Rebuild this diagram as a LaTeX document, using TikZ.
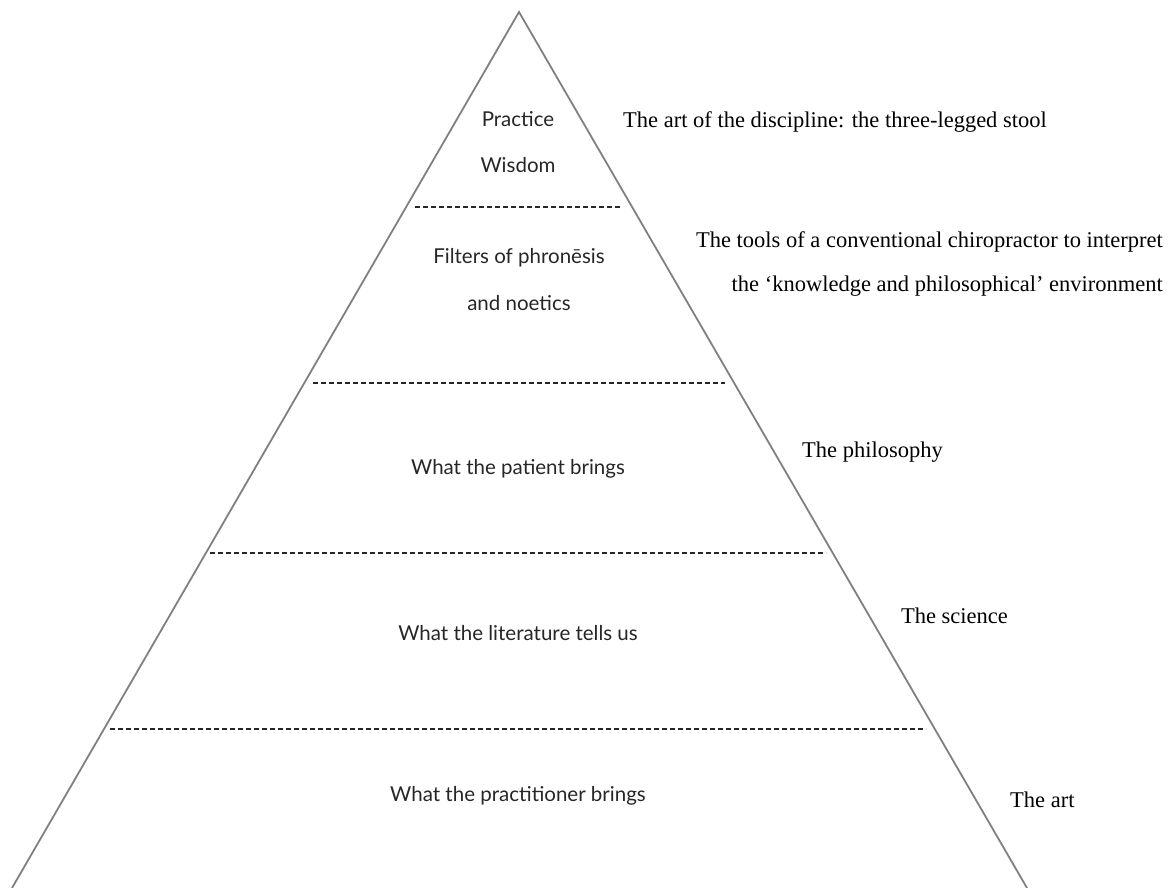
\documentclass[tikz,border=0pt]{standalone}
\usepackage{fontspec}
\setmainfont{Liberation Serif}
\newfontfamily\labsans{Lato}
\begin{document}
\begin{tikzpicture}[x=1pt,y=-1pt,
  side/.style={draw=black!50, line width=1.8pt},
  divider/.style={draw=black!85, line width=1.1pt, dash pattern=on 5pt off 3pt},
  inlabel/.style={font=\labsans\fontsize{20.5}{24}\selectfont, text=black!85, inner sep=0pt, anchor=base},
  outlabel/.style={font=\fontsize{22.5}{27}\selectfont, inner sep=0pt}]
\useasboundingbox (0,0) rectangle (1169,888);
\coordinate (apex) at (519,12);
\coordinate (bl) at (12,888);
\coordinate (br) at (1027,888);
\draw[side] (bl) -- (apex) -- (br);
% dividers
\coordinate (d1l) at (415,207); \coordinate (d1r) at (622,207);
\coordinate (d2l) at (313,383); \coordinate (d2r) at (725,383);
\coordinate (d3l) at (210,553); \coordinate (d3r) at (826,553);
\coordinate (d4l) at (110,729); \coordinate (d4r) at (926,729);
\draw[divider] (d1l) -- (d1r);
\draw[divider] (d2l) -- (d2r);
\draw[divider] (d3l) -- (d3r);
\draw[divider] (d4l) -- (d4r);
% inside labels
\node[inlabel] (pr) at (518,127) {Practice};
\node[inlabel] (wi) at (518,172) {Wisdom};
\node[inlabel] (fi) at (519,263) {Filters of phronēsis};
\node[inlabel] (no) at (519,310) {and noetics};
\node[inlabel] (pa) at (518,474) {What the patient brings};
\node[inlabel] (li) at (518,640) {What the literature tells us};
\node[inlabel] (pt) at (518,801) {What the practitioner brings};
% outside labels
\node[outlabel, anchor=base west] (o1) at (623,128) {The art of the discipline: the three-legged stool};
\node[outlabel, anchor=base east] (o2) at (1163,247) {The tools of a conventional chiropractor to interpret};
\node[outlabel, anchor=base east] (o3) at (1163,291) {the ‘knowledge and philosophical’ environment};
\node[outlabel, anchor=base west] (o4) at (802,457) {The philosophy};
\node[outlabel, anchor=base east] (o5) at (1008,623) {The science};
\node[outlabel, anchor=base west] (o6) at (1010,807) {The art};
\end{tikzpicture}
\end{document}
